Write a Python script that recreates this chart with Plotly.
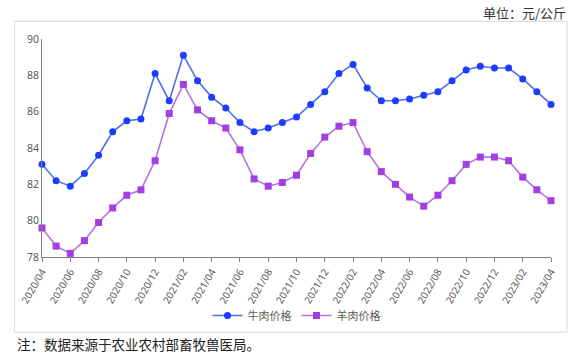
import plotly.graph_objects as go

months = []
for y in range(2020, 2024):
    for m in range(1, 13):
        if (y == 2020 and m < 4) or (y == 2023 and m > 4):
            continue
        months.append(f"{y}/{m:02d}")

beef = [83.1, 82.2, 81.9, 82.6, 83.6, 84.9, 85.5, 85.6, 88.1,
        86.6, 89.1, 87.7, 86.8, 86.2, 85.4, 84.9, 85.1, 85.4, 85.7, 86.4, 87.1,
        88.1, 88.6, 87.3, 86.6, 86.6, 86.7, 86.9, 87.1, 87.7, 88.3, 88.5, 88.4,
        88.4, 87.8, 87.1, 86.4]
mutton = [79.6, 78.6, 78.2, 78.9, 79.9, 80.7, 81.4, 81.7, 83.3,
          85.9, 87.5, 86.1, 85.5, 85.1, 83.9, 82.3, 81.9, 82.1, 82.5, 83.7, 84.6,
          85.2, 85.4, 83.8, 82.7, 82.0, 81.3, 80.8, 81.4, 82.2, 83.1, 83.5, 83.5,
          83.3, 82.4, 81.7, 81.1]
series_names = ["牛肉价格", "羊肉价格"]
yticks = [78, 80, 82, 84, 86, 88, 90]

W, H = 585, 354
L, R, T, B = 41.7, 550.7, 39.3, 256.7

x = list(range(len(months)))
tickvals = x[::2]
ticktext = months[::2]

fig = go.Figure()
fig.add_trace(go.Scatter(
    x=x, y=beef, name=series_names[0], mode="lines+markers",
    line=dict(color="#4d6ef5", width=1.6),
    marker=dict(symbol="circle", size=7, color="#1e3cff"),
    cliponaxis=False))
fig.add_trace(go.Scatter(
    x=x, y=mutton, name=series_names[1], mode="lines+markers",
    line=dict(color="#b472e6", width=1.6),
    marker=dict(symbol="square", size=7, color="#a33fe0"),
    cliponaxis=False))

def px2paper_x(p):
    return (p - L) / (R - L)

def px2paper_y(p):
    return (B - p) / (B - T)

fig.update_layout(
    width=W, height=H,
    margin=dict(l=L, r=W - R, t=T, b=H - B, pad=0),
    paper_bgcolor="white", plot_bgcolor="white",
    font=dict(family="Noto Sans CJK SC, Noto Sans, sans-serif", color="#595959", size=10),
    showlegend=True,
    legend=dict(orientation="h", x=0.5, xanchor="center",
                y=px2paper_y(315), yanchor="middle",
                font=dict(size=11, color="#595959"),
                itemwidth=30, tracegroupgap=0, bgcolor="rgba(0,0,0,0)"),
    xaxis=dict(range=[0, len(months) - 1], tickvals=tickvals, ticktext=ticktext,
               tickangle=-60, showgrid=False, zeroline=False,
               showline=True, linecolor="#808080", linewidth=1,
               ticks="outside", ticklen=4, tickcolor="#808080",
               tickfont=dict(size=10, color="#595959", family="Noto Sans, sans-serif")),
    yaxis=dict(range=[78, 90], tickvals=yticks, showgrid=False, zeroline=False,
               showline=True, linecolor="#808080", linewidth=1,
               ticks="", tickfont=dict(size=10.5, color="#595959", family="Noto Sans, sans-serif")),
    shapes=[dict(type="rect", xref="paper", yref="paper",
                 x0=px2paper_x(14), x1=px2paper_x(566.7),
                 y0=px2paper_y(331.7), y1=px2paper_y(21.7),
                 line=dict(color="#d9d9d9", width=1), fillcolor="rgba(0,0,0,0)",
                 layer="below")],
    annotations=[
        dict(text="单位：元/公斤", xref="paper", yref="paper",
             x=px2paper_x(568), y=px2paper_y(12.5), xanchor="right", yanchor="middle",
             showarrow=False, font=dict(size=13, color="#333333",
                                        family="Noto Sans CJK SC, sans-serif")),
        dict(text="注：数据来源于农业农村部畜牧兽医局。", xref="paper", yref="paper",
             x=px2paper_x(15), y=px2paper_y(343), xanchor="left", yanchor="middle",
             showarrow=False, font=dict(size=13.5, color="#222222",
                                        family="Noto Sans CJK SC, sans-serif")),
    ],
)

fig.write_html("out.html")
